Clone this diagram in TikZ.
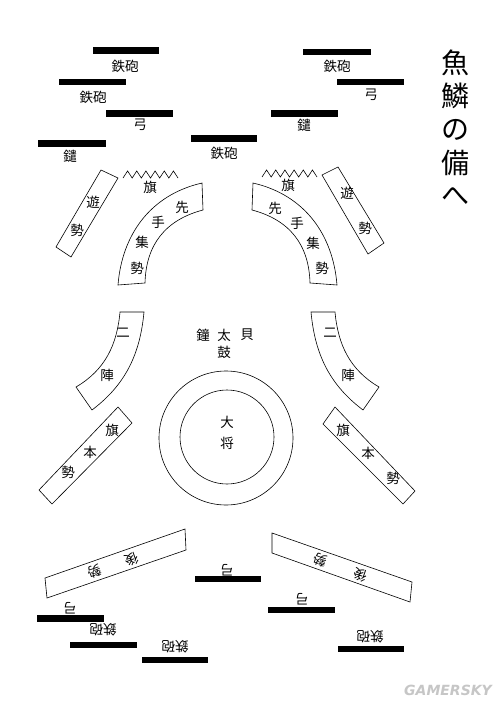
\documentclass[tikz,border=0pt]{standalone}
\usepackage{fontspec}
\newfontfamily\cjk{Noto Sans CJK JP}
\newfontfamily\wmfont{DejaVu Sans}
\begin{document}
\begin{tikzpicture}[x=1pt,y=-1pt,
  lbl/.style={font=\cjk\fontsize{13.5}{13.5}\selectfont, inner sep=0pt},
  ttl/.style={font=\cjk\fontsize{28}{28}\selectfont, inner sep=0pt},
  shp/.style={draw=black, line width=0.6pt, line join=miter},
  bar/.style={fill=black}]
\useasboundingbox[fill=white] (0,0) rectangle (500,701);

% ---------- title ----------
\node[ttl] (t1) at (455,63) {魚};
\node[ttl] (t2) at (455,96) {鱗};
\node[ttl] (t3) at (455,130) {の};
\node[ttl] (t4) at (455,163) {備};
\node[ttl] (t5) at (455,196) {へ};

% ---------- top bars ----------
\fill[bar] (93,47) rectangle (159,54);   \node[lbl] (l1) at (125,66) {鉄砲};
\fill[bar] (59,79) rectangle (126,85);   \node[lbl] (l2) at (93,97) {鉄砲};
\fill[bar] (106,110) rectangle (173,117);\node[lbl] (l3) at (140,125) {弓};
\fill[bar] (38,140) rectangle (106,147); \node[lbl] (l4) at (70,156) {鑓};
\fill[bar] (191,135) rectangle (257,142);\node[lbl] (l5) at (224,153) {鉄砲};
\fill[bar] (303,49) rectangle (371,55);  \node[lbl] (l6) at (337,66) {鉄砲};
\fill[bar] (337,79) rectangle (404,85);  \node[lbl] (l7) at (371,95) {弓};
\fill[bar] (271,110) rectangle (338,117);\node[lbl] (l8) at (304,125) {鑓};

% ---------- flags (zigzag) ----------
\draw[shp] (123,178) \foreach \i in {0,...,5} {
   -- ({123+9.17*\i+4.58},171) -- ({123+9.17*(\i+1)},178)};
\node[lbl] (f1) at (150,187) {旗};
\draw[shp] (262,177) \foreach \i in {0,...,5} {
   -- ({262+9.17*\i+4.58},170) -- ({262+9.17*(\i+1)},177)};
\node[lbl] (f2) at (288,185) {旗};

% ---------- 遊勢 ----------
\draw[shp] (101,170) -- (118,178) -- (71,257) -- (56,247) -- cycle;
\node[lbl] (y1) at (93,202) {遊};
\node[lbl] (y2) at (77,230) {勢};
\draw[shp] (322,175) -- (338,167) -- (384,243) -- (368,254) -- cycle;
\node[lbl] (y3) at (347,193) {遊};
\node[lbl] (y4) at (365,228) {勢};

% ---------- 先手集勢 ----------
\draw[shp] (118,285) .. controls (122,235) and (150,195) .. (202,183)
  -- (203,210) .. controls (165,220) and (146,245) .. (145,283) -- cycle;
\node[lbl] (s1) at (182,207) {先};
\node[lbl] (s2) at (158,222) {手};
\node[lbl] (s3) at (142,242) {集};
\node[lbl] (s4) at (137,268) {勢};
\draw[shp] (337,285) .. controls (333,235) and (305,195) .. (253,183)
  -- (252,210) .. controls (290,220) and (309,245) .. (310,283) -- cycle;
\node[lbl] (s5) at (275,208) {先};
\node[lbl] (s6) at (297,223) {手};
\node[lbl] (s7) at (313,243) {集};
\node[lbl] (s8) at (322,268) {勢};

% ---------- 二陣 ----------
\draw[shp] (120,312) -- (144,312) .. controls (140,355) and (125,385) .. (92,410)
  -- (76,387) .. controls (105,370) and (117,345) .. (120,312) -- cycle;
\node[lbl] (n1) at (123,333) {二};
\node[lbl] (n2) at (107,375) {陣};
\draw[shp] (335,312) -- (311,312) .. controls (315,355) and (330,385) .. (363,410)
  -- (379,387) .. controls (350,370) and (338,345) .. (335,312) -- cycle;
\node[lbl] (n3) at (330,333) {二};
\node[lbl] (n4) at (348,375) {陣};

% ---------- 鐘 太鼓 貝 ----------
\node[lbl] (k1) at (203,335) {鐘};
\node[lbl] (k2) at (224,335) {太};
\node[lbl] (k3) at (247,335) {貝};
\node[lbl] (k4) at (224,352) {鼓};

% ---------- 大将 ----------
\draw[shp] (226,438) circle[radius=67];
\draw[shp] (227,437) circle[radius=47];
\node[lbl] (d1) at (227,422) {大};
\node[lbl] (d2) at (227,443) {将};

% ---------- 旗本勢 ----------
\draw[shp] (118,407) -- (132,423) -- (52,504) -- (39,490) -- cycle;
\node[lbl] (h1) at (112,430) {旗};
\node[lbl] (h2) at (90,452) {本};
\node[lbl] (h3) at (68,472) {勢};
\draw[shp] (335,407) -- (323,424) -- (403,504) -- (415,491) -- cycle;
\node[lbl] (h4) at (343,430) {旗};
\node[lbl] (h5) at (368,453) {本};
\node[lbl] (h6) at (393,478) {勢};

% ---------- rear boxes (upside down) ----------
\draw[shp] (45,578) -- (47,598) -- (186,550) -- (185,529) -- cycle;
\node[lbl, rotate=199] (r1) at (95,572) {勢};
\node[lbl, rotate=199] (r2) at (132,560) {後};
\draw[shp] (272,533) -- (272,553) -- (410,602) -- (412,582) -- cycle;
\node[lbl, rotate=161] (r3) at (320,560) {勢};
\node[lbl, rotate=161] (r4) at (360,575) {後};

% ---------- bottom bars (upside down) ----------
\fill[bar] (195,576) rectangle (261,582); \node[lbl, rotate=180] (b1) at (227,570) {弓};
\fill[bar] (37,615) rectangle (104,622);  \node[lbl, rotate=180] (b2) at (70,608) {弓};
\fill[bar] (70,642) rectangle (137,648);  \node[lbl, rotate=180] (b3) at (103,630) {鉄砲};
\fill[bar] (142,657) rectangle (208,663); \node[lbl, rotate=180] (b4) at (175,647) {鉄砲};
\fill[bar] (268,607) rectangle (335,613); \node[lbl, rotate=180] (b5) at (302,599) {弓};
\fill[bar] (338,646) rectangle (404,652); \node[lbl, rotate=180] (b6) at (370,637) {鉄砲};

% ---------- watermark ----------
\node[font=\wmfont\bfseries\itshape\fontsize{14}{14}\selectfont, text=gray!45, inner sep=0pt] (wm) at (448,690) {GAMERSKY};
\end{tikzpicture}
\end{document}
